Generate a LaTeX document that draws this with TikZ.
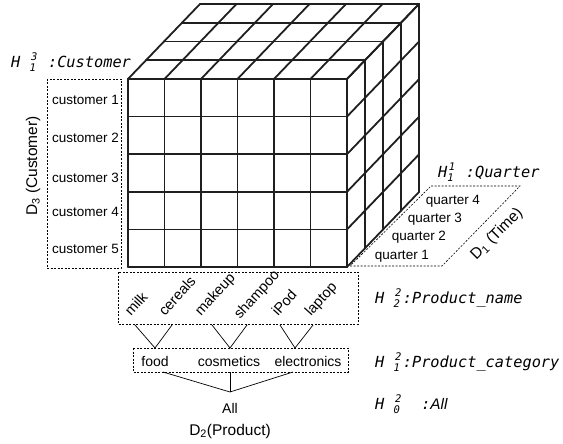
\documentclass[tikz,border=0pt]{standalone}
\usepackage{fontspec}
\setmainfont{Liberation Sans}
\newfontfamily\hfont{DejaVu Sans Mono}
\newcommand{\mcell}{\hspace{0.602em}}
\newcommand{\hidx}[2]{\makebox[0.602em][l]{\rlap{\hspace{0.1em}\raisebox{0.5em}{\fontsize{10.5}{10.5}\selectfont #1}}\raisebox{-0.25em}{\fontsize{10.5}{10.5}\selectfont #2}}}
\tikzset{
  cube/.style={line width=1.8pt, line cap=round, line join=round, draw=black!88},
  dbox/.style={draw, dash pattern=on 2pt off 1.5pt, line width=0.6pt},
  conn/.style={line width=0.7pt},
  lab/.style={inner sep=0pt, font=\fontsize{13.5}{15}\selectfont},
  cat/.style={inner sep=0pt, font=\fontsize{14}{16}\selectfont},
  dlab/.style={inner sep=0pt, font=\fontsize{15.5}{17}\selectfont},
  prod/.style={inner sep=0pt, anchor=base west, rotate=48, font=\fontsize{14.5}{16}\selectfont},
  hlab/.style={inner sep=0pt, anchor=west, font=\hfont\itshape\fontsize{15.3}{17}\selectfont}
}
\begin{document}
\begin{tikzpicture}[x=1pt,y=-1pt]
\useasboundingbox (0,0) rectangle (563,444);
% ---- cube ----
\foreach \i in {0,...,6} \draw[cube] (128+\i*36.5,79) -- ++(72,-75);
\foreach \k in {0,...,4} \draw[cube] (128+\k*18,79-\k*18.75) -- ++(219,0);
\foreach \k in {0,...,4} \draw[cube] (347+\k*18,79-\k*18.75) -- ++(0,188);
\foreach \j in {0,...,5} \draw[cube] (347,79+\j*37.6) -- ++(72,-75);
\foreach \i in {0,...,6} \draw[cube] (128+\i*36.5,79) -- ++(0,188);
\foreach \j in {0,...,5} \draw[cube] (128,79+\j*37.6) -- ++(219,0);
% ---- customer dimension ----
\draw[dbox] (47,79) rectangle (121,268);
\node[lab, anchor=east] (c1) at (119,100) {customer 1};
\node[lab, anchor=east] (c2) at (119,138) {customer 2};
\node[lab, anchor=east] (c3) at (119,178) {customer 3};
\node[lab, anchor=east] (c4) at (119,212) {customer 4};
\node[lab, anchor=east] (c5) at (119,249) {customer 5};
\node[dlab, rotate=90] (d3) at (33,166) {D\textsubscript{3} (Customer)};
\node[hlab] (h13) at (11,62) {H\mcell\hidx{3}{1}\mcell:Customer};
% ---- time dimension ----
\draw[dbox] (350,266) -- (442,266) -- (520,186) -- (431,186) -- cycle;
\node[lab] (q4) at (453,201) {quarter 4};
\node[lab] (q3) at (435,219) {quarter 3};
\node[lab] (q2) at (419,237) {quarter 2};
\node[lab] (q1) at (402,256) {quarter 1};
\node[dlab, rotate=45] (d1) at (497,234) {D\textsubscript{1} (Time)};
\node[hlab] (h11) at (438,172) {H\hidx{1}{1}\mcell:Quarter};
% ---- product dimension ----
\draw[dbox] (118,272) rectangle (358,324);
\node[prod] (milk) at (131,317) {milk};
\node[prod] (cereals) at (165,317) {cereals};
\node[prod] (makeup) at (201,317) {makeup};
\node[prod] (shampoo) at (240,320) {shampoo};
\node[prod] (ipod) at (278,317) {iPod};
\node[prod] (laptop) at (311,317) {laptop};
\coordinate (milkb) at (135,325);
\coordinate (cerb) at (172,325);
\coordinate (makb) at (212,325);
\coordinate (shab) at (247,325);
\coordinate (ipob) at (280,325);
\coordinate (lapb) at (313,325);
\draw[dbox] (133,348) rectangle (348,372);
\node[cat] (food) at (155,361) {food};
\node[cat] (cosm) at (229,361) {cosmetics};
\node[cat] (elec) at (308,361) {electronics};
\coordinate (foodt) at (155,348);
\coordinate (cosmt) at (230,348);
\coordinate (elect) at (295,348);
\draw[conn] (milkb) -- (foodt) -- (cerb);
\draw[conn] (makb) -- (cosmt) -- (shab);
\draw[conn] (ipob) -- (elect) -- (lapb);
\coordinate (foodb) at (163,372);
\coordinate (cosmb) at (230,372);
\coordinate (elecb) at (293,372);
\coordinate (allt) at (230,392);
\node[cat] (all) at (230,408) {All};
\draw[conn] (foodb) -- (allt) -- (elecb);
\draw[conn] (cosmb) -- (allt);
\node[dlab] (d2) at (230,431) {D\textsubscript{2}(Product)};
\node[hlab] (h22) at (375,298) {H\mcell\hidx{2}{2}:Product\_name};
\node[hlab] (h12) at (375,362) {H\mcell\hidx{2}{1}:Product\_category};
\node[hlab] (h02) at (375,404) {H\mcell\hidx{2}{0}\mcell\mcell:{\rmfamily\itshape All}};
\end{tikzpicture}
\end{document}
